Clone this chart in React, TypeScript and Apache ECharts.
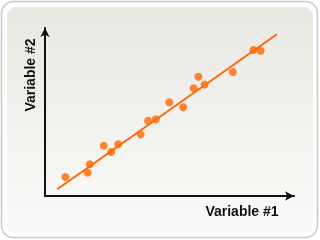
import React, { useEffect, useRef } from "react";
import * as echarts from "echarts";

// Scatter observations: [Variable #1, Variable #2]
const xValues = [8.2, 17.1, 18.0, 23.6, 26.6, 29.4, 38.4, 41.4, 44.5, 49.9, 55.5, 59.7, 61.6, 64.1, 75.4, 83.7, 86.6];
const yValues = [11.3, 13.9, 18.9, 29.9, 26.2, 30.8, 36.7, 44.8, 45.7, 55.8, 52.8, 64.1, 71.0, 66.3, 73.8, 86.9, 86.5];

// Fitted trend line end points
const fitX = [4.9, 93.1];
const fitY = [4.0, 96.3];

const xLabel = "Variable #1";
const yLabel = "Variable #2";

const ORANGE = "#ff6600";

export default function App() {
  const ref = useRef<HTMLDivElement>(null);

  useEffect(() => {
    if (!ref.current) return;
    const chart = echarts.init(ref.current, null, { renderer: "svg" });

    const points = xValues.map((x, i) => [x, yValues[i]]);
    const fit = fitX.map((x, i) => [x, fitY[i]]);

    const axisCommon = {
      type: "value" as const,
      min: 0,
      max: 100,
      axisLabel: { show: false },
      axisTick: { show: false },
      splitLine: { show: false },
      axisLine: {
        show: true,
        symbol: ["none", "arrow"],
        symbolSize: [7, 9],
        lineStyle: { color: "#111", width: 2 },
      },
    };

    chart.setOption({
      animation: false,
      graphic: [
        {
          type: "rect",
          z: -20,
          shape: { x: 1.5, y: 1.5, width: 316, height: 236, r: 12 },
          style: { fill: "#ffffff", stroke: "#c8c8c8", lineWidth: 1.5 },
        },
        {
          type: "rect",
          z: -19,
          shape: { x: 7, y: 7, width: 306, height: 226, r: 9 },
          style: {
            fill: new echarts.graphic.LinearGradient(0, 0, 0, 1, [
              { offset: 0, color: "#e9e8e2" },
              { offset: 1, color: "#fafaf9" },
            ]),
          },
        },
        {
          type: "text",
          x: 242,
          y: 211,
          style: {
            text: xLabel,
            font: "bold 14px 'Liberation Sans', Arial, sans-serif",
            fill: "#111",
            align: "center",
            verticalAlign: "middle",
          },
        },
        {
          type: "text",
          x: 30,
          y: 75,
          rotation: Math.PI / 2,
          style: {
            text: yLabel,
            font: "bold 14px 'Liberation Sans', Arial, sans-serif",
            fill: "#111",
            align: "center",
            verticalAlign: "middle",
          },
        },
      ],
      grid: { left: 45, right: 26, top: 28, bottom: 44 },
      xAxis: { ...axisCommon },
      yAxis: { ...axisCommon },
      series: [
        {
          type: "line",
          data: fit,
          showSymbol: false,
          symbol: "none",
          lineStyle: { color: ORANGE, width: 1.8 },
          z: 2,
        },
        {
          type: "scatter",
          data: points,
          symbolSize: 8,
          itemStyle: { color: ORANGE },
          z: 3,
        },
      ],
    });

    return () => chart.dispose();
  }, []);

  return (
    <div
      ref={ref}
      style={{ position: "fixed", left: 0, top: 0, width: 320, height: 240 }}
    />
  );
}
